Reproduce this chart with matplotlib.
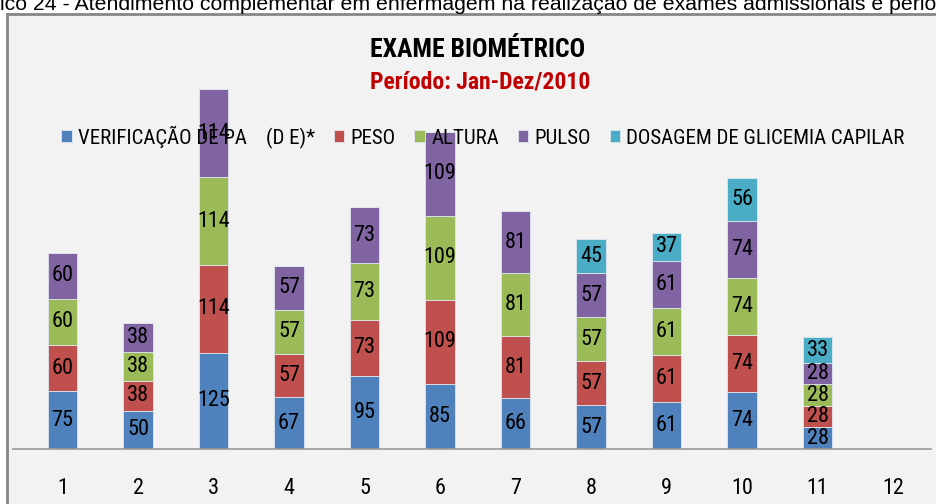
import numpy as np
import matplotlib.pyplot as plt
from matplotlib.patches import Rectangle

# data
months = ['1', '2', '3', '4', '5', '6', '7', '8', '9', '10', '11', '12']
pa = [75, 50, 125, 67, 95, 85, 66, 57, 61, 74, 28, 0]
peso = [60, 38, 114, 57, 73, 109, 81, 57, 61, 74, 28, 0]
altura = [60, 38, 114, 57, 73, 109, 81, 57, 61, 74, 28, 0]
pulso = [60, 38, 114, 57, 73, 109, 81, 57, 61, 74, 28, 0]
glicemia = [0, 0, 0, 0, 0, 0, 0, 45, 37, 56, 33, 0]

series_names = ['VERIFICAÇÃO DE PA    (D E)*', 'PESO', 'ALTURA', 'PULSO',
                'DOSAGEM DE GLICEMIA CAPILAR']
colors = ['#4f81bd', '#c0504d', '#9bbb59', '#8064a2', '#4bacc6']

narrow = ['Roboto Condensed', 'DejaVu Sans']

fig = plt.figure(figsize=(9.37, 5.04), dpi=100)
fig.patch.set_facecolor('white')

# chart frame
fig.patches.append(Rectangle((7 / 937, -0.1), 1.0, (504 - 14) / 504 + 0.1,
                             transform=fig.transFigure, facecolor='#f2f2f2',
                             edgecolor='#868686', lw=2, zorder=-5))

fig.text(0, 1 - 10 / 504,
         'ico 24 - Atendimento complementar em enfermagem na realização de exames admissionais e perió',
         ha='left', va='baseline', fontsize=15.3, family=['Liberation Sans', 'DejaVu Sans'])

ax = fig.add_axes([13 / 937, 55 / 504, (931 - 13) / 937, 435 / 504])
ax.set_facecolor('none')

x = np.arange(1, 13)
bottom = np.zeros(12)
handles = []
for vals, name, c in zip([pa, peso, altura, pulso, glicemia], series_names, colors):
    vals = np.array(vals)
    bars = ax.bar(x, vals, 0.385, bottom=bottom, color=c, edgecolor='#dfe6ef',
                  linewidth=0.6, label=name, zorder=2)
    ax.bar_label(bars, labels=[str(v) if v else '' for v in vals], label_type='center',
                 fontsize=16, family=narrow, color='black', zorder=3)
    bottom += vals
    handles.append(bars)

ax.set_xlim(0.344, 12.503)
ax.set_ylim(0, 565)
ax.set_xticks(x)
ax.set_xticklabels(months, fontsize=16, family=narrow)
ax.tick_params(axis='x', length=0, pad=21)
ax.set_yticks([])
for s in ['top', 'right', 'left']:
    ax.spines[s].set_visible(False)
ax.spines['bottom'].set_color('#9a9a9a')
ax.spines['bottom'].set_linewidth(1.2)

fig.text(478 / 937, 1 - 50 / 504, 'EXAME BIOMÉTRICO', ha='center', va='center',
         fontsize=18.5, fontweight='bold', family=narrow, color='black')
fig.text(480 / 937, 1 - 82 / 504, 'Período: Jan-Dez/2010', ha='center', va='center',
         fontsize=17, fontweight='bold', family=narrow, color='#c00000')

leg = fig.legend(handles=handles, loc='center', bbox_to_anchor=(483 / 937, 1 - 137 / 504),
                 ncol=5, frameon=False, prop={'family': narrow, 'size': 15},
                 handlelength=0.5, handleheight=0.5, handletextpad=0.3, columnspacing=0.9)
leg.set_zorder(10)

fig.savefig('out.png', dpi=100)
